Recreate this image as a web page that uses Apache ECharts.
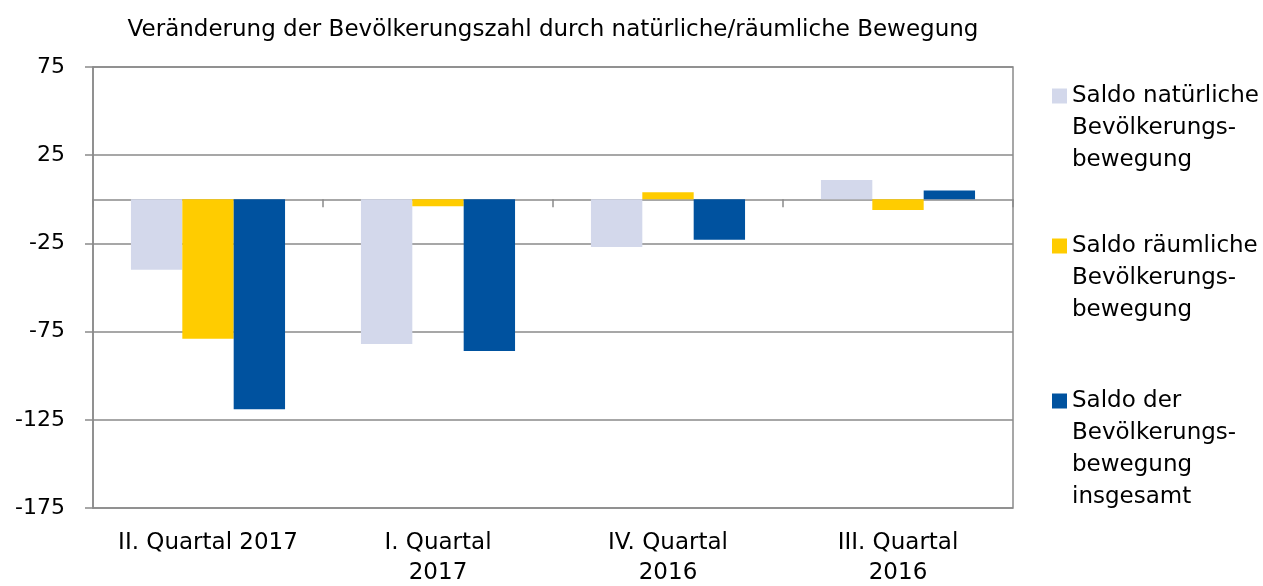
<!DOCTYPE html>
<html>
<head>
<meta charset="utf-8">
<script src="https://cdn.jsdelivr.net/npm/echarts@6/dist/echarts.min.js"></script>
<style>
  html, body { margin: 0; padding: 0; background: #fff; }
  #chart { width: 1263px; height: 586px; }
</style>
</head>
<body>
<div id="chart"></div>
<script>
// Daten
var quartale = ['II. Quartal 2017', 'I. Quartal\n2017', 'IV. Quartal\n2016', 'III. Quartal\n2016'];
var saldoNatuerlich = [-40, -82, -27, 11];
var saldoRaeumlich = [-79, -4, 4, -6];
var saldoGesamt = [-119, -86, -23, 5];

var serienNamen = [
  'Saldo natürliche\nBevölkerungs-\nbewegung',
  'Saldo räumliche\nBevölkerungs-\nbewegung',
  'Saldo der\nBevölkerungs-\nbewegung\ninsgesamt'
];
var farben = ['#D3D8EB', '#FFCC00', '#00529F'];

var schrift = 'DejaVu Sans';
var grau = '#8a8a8a';
var zeile = 32;

// Legendentext wird um das Symbol zentriert: Leerzeilen davor,
// damit die erste Zeile neben dem Kästchen steht
function legende(i, symbolY, zeilen) {
  var halb = (2 * zeilen - 1) * zeile / 2;
  return {
    data: [serienNamen[i]],
    orient: 'vertical',
    left: 1052,
    top: symbolY - halb,
    padding: 0,
    itemWidth: 15,
    itemHeight: 15,
    icon: 'rect',
    formatter: function (name) {
      return new Array(zeilen).join('\n') + name;
    },
    textStyle: {
      fontFamily: schrift,
      fontSize: 23,
      color: '#000',
      lineHeight: zeile
    }
  };
}

var myChart = echarts.init(document.getElementById('chart'));

var option = {
  animation: false,
  color: farben,
  title: {
    text: 'Veränderung der Bevölkerungszahl durch natürliche/räumliche Bewegung',
    left: 553,
    textAlign: 'center',
    top: 19,
    padding: 0,
    textStyle: { fontFamily: schrift, fontSize: 23, fontWeight: 'normal', color: '#000' }
  },
  legend: [
    legende(0, 96, 3),
    legende(1, 246, 3),
    legende(2, 401, 4)
  ],
  grid: {
    left: 93, right: 250, top: 67, bottom: 78,
    outerBoundsMode: 'none',
    containLabel: false,
    show: true, borderColor: grau, borderWidth: 1.5
  },
  xAxis: [
    {
      type: 'category',
      data: quartale,
      position: 'bottom',
      axisLine: { onZero: true, lineStyle: { color: grau, width: 1.5 } },
      axisTick: { show: true, length: 8, lineStyle: { color: grau, width: 1.5 } },
      axisLabel: { show: false }
    },
    {
      type: 'category',
      data: quartale,
      position: 'bottom',
      axisLine: { onZero: false, show: false },
      axisTick: { show: false },
      axisLabel: {
        interval: 0,
        fontFamily: schrift, fontSize: 23, color: '#000',
        margin: 20, lineHeight: 30
      }
    }
  ],
  yAxis: {
    type: 'value',
    min: -175,
    max: 75,
    interval: 50,
    axisLine: { show: true, lineStyle: { color: grau, width: 1.5 } },
    axisTick: { show: true, length: 8, lineStyle: { color: grau, width: 1.5 } },
    axisLabel: { fontFamily: schrift, fontSize: 22, color: '#000', margin: 28 },
    splitLine: { lineStyle: { color: grau, width: 1.5 } }
  },
  series: [
    { name: serienNamen[0], type: 'bar', data: saldoNatuerlich, barGap: '0%', barCategoryGap: '33%' },
    { name: serienNamen[1], type: 'bar', data: saldoRaeumlich, barGap: '0%', barCategoryGap: '33%' },
    { name: serienNamen[2], type: 'bar', data: saldoGesamt, barGap: '0%', barCategoryGap: '33%' }
  ]
};

myChart.setOption(option);
</script>
</body>
</html>
